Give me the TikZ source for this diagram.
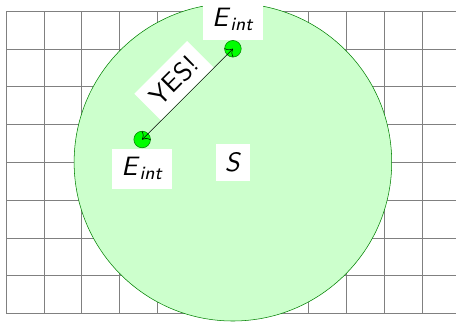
\documentclass[tikz,border=0pt]{standalone}
\usepackage{amsmath}
\usetikzlibrary{positioning, arrows.meta}
\tikzset{
    dot/.style = {circle, fill = green, draw = green!50!black, minimum size = 0.44cm, inner sep = 0pt},
    lbl/.style = {fill = white, scale = 2, font = \sffamily}
}
\begin{document}
\begin{tikzpicture}
        \useasboundingbox (-0.16, -0.2) rectangle (11.9, 8.29);
        \draw[gray, step = 1] (0, 0) grid (12, 8);
        \fill[green!20] (6, 4) circle (4.2);
        \draw[green!50!black] (6, 4) circle (4.2);
        \node[lbl] (s) at (6, 4) {\textit{S}};
        \node[dot] (p) at (6, 7) {};
        \node[dot] (q) at (3.6, 4.6) {};
        \node[lbl, above = 0pt of p] (plabel) {\textit{E}$_{\text{\itshape int}}$};
        \node[lbl, below = 0pt of q] (qlabel) {\textit{E}$_{\text{\itshape int}}$};
        \draw[{To[scale = 1.8]}-{To[scale = 1.8]}] (p.center) -- (q.center) node[lbl, midway, sloped, above] {YES!};
    \end{tikzpicture}
\end{document}
